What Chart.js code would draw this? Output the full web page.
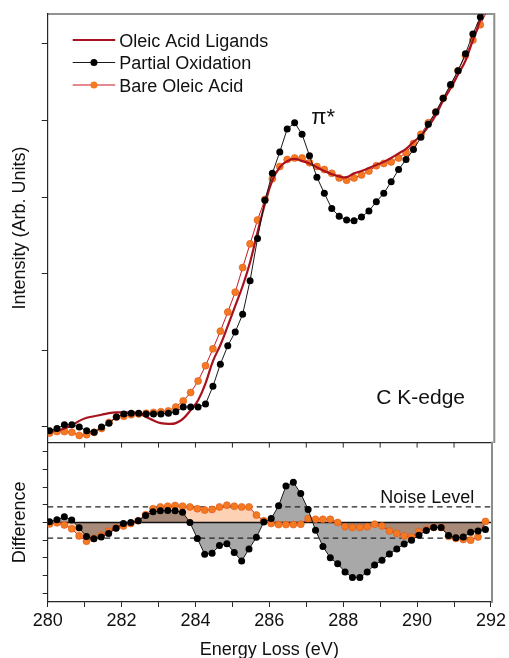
<!DOCTYPE html>
<html lang="en">
<head>
<meta charset="UTF-8">
<title>C K-edge EELS</title>
<script src="https://cdn.jsdelivr.net/npm/chart.js@4.4.0/dist/chart.umd.min.js"></script>
<style>
    html, body { margin: 0; padding: 0; background: #fff; }
    #wrap { position: relative; width: 509px; height: 658px; overflow: hidden; }
    #wrap canvas { position: absolute; left: 0; }
    #topChart { top: 0; }
    #diffChart { top: 438px; }
</style>
</head>
<body>
<div id="wrap">
    <canvas id="topChart" width="509" height="450"></canvas>
    <canvas id="diffChart" width="509" height="228"></canvas>
</div>
<script>
    // energy loss (eV) of the sampled points
    const energy = [280.05, 280.25, 280.45, 280.65, 280.85, 281.05, 281.25, 281.45, 281.65, 281.85,
        282.05, 282.25, 282.45, 282.65, 282.85, 283.05, 283.25, 283.45, 283.65, 283.85,
        284.05, 284.25, 284.45, 284.65, 284.85, 285.05, 285.25, 285.45, 285.65, 285.85,
        286.05, 286.25, 286.45, 286.65, 286.85, 287.05, 287.25, 287.45, 287.65, 287.85,
        288.05, 288.25, 288.45, 288.65, 288.85, 289.05, 289.25, 289.45, 289.65, 289.85,
        290.05, 290.25, 290.45, 290.65, 290.85, 291.05, 291.25, 291.45, 291.65, 291.85];

    // intensity, arb. units
    const ligands = [-0.05, -0.045, -0.02, 0.02, 0.08, 0.12, 0.14, 0.16, 0.18, 0.19,
        0.19, 0.19, 0.18, 0.13, 0.085, 0.05, 0.04, 0.05, 0.11, 0.22,
        0.35, 0.57, 0.86, 1.07, 1.32, 1.58, 1.84, 2.15, 2.54, 2.91,
        3.22, 3.39, 3.47, 3.50, 3.47, 3.44, 3.39, 3.34, 3.30, 3.27,
        3.26, 3.31, 3.34, 3.38, 3.42, 3.46, 3.51, 3.57, 3.63, 3.72,
        3.80, 3.92, 4.07, 4.26, 4.42, 4.60, 4.78, 5.05, 5.31, 5.56];
    const partialOx = [-0.05, -0.02, 0.03, 0.03, 0.00, -0.05, -0.07, 0.00, 0.05, 0.13,
        0.17, 0.18, 0.18, 0.17, 0.17, 0.17, 0.18, 0.20, 0.26, 0.26,
        0.26, 0.30, 0.53, 0.82, 1.06, 1.24, 1.47, 1.91, 2.46, 2.96,
        3.31, 3.59, 3.89, 3.97, 3.82, 3.54, 3.26, 3.05, 2.85, 2.75,
        2.70, 2.69, 2.74, 2.82, 2.94, 3.05, 3.20, 3.36, 3.49, 3.62,
        3.78, 3.95, 4.11, 4.29, 4.47, 4.65, 4.87, 5.13, 5.35, 5.56];
    const bareOA = [-0.08, -0.06, -0.06, -0.07, -0.11, -0.10, -0.07, -0.02, 0.06, 0.13,
        0.14, 0.16, 0.17, 0.18, 0.19, 0.20, 0.21, 0.26, 0.34, 0.45,
        0.60, 0.80, 1.02, 1.25, 1.50, 1.76, 2.08, 2.39, 2.70, 2.97,
        3.24, 3.40, 3.49, 3.51, 3.51, 3.45, 3.40, 3.36, 3.31, 3.25,
        3.22, 3.25, 3.29, 3.34, 3.41, 3.44, 3.46, 3.51, 3.58, 3.70,
        3.82, 3.97, 4.11, 4.29, 4.46, 4.65, 4.85, 5.05, 5.25, 5.45];

    // difference from the ligand spectrum
    const diffPartial = [0.02, 0.08, 0.16, 0.07, -0.15, -0.40, -0.46, -0.41, -0.31, -0.16,
        -0.03, 0.00, 0.05, 0.20, 0.30, 0.33, 0.34, 0.33, 0.29, 0.00,
        -0.45, -0.90, -0.87, -0.65, -0.60, -0.85, -1.09, -0.75, -0.42, 0.01,
        0.11, 0.47, 1.03, 1.14, 0.82, 0.37, -0.22, -0.68, -1.00, -1.17,
        -1.40, -1.56, -1.56, -1.40, -1.20, -1.07, -0.89, -0.75, -0.61, -0.50,
        -0.36, -0.23, -0.14, -0.14, -0.37, -0.43, -0.41, -0.28, -0.24, -0.20];
    const diffBare = [-0.04, -0.01, -0.07, -0.18, -0.38, -0.53, -0.45, -0.36, -0.25, -0.15,
        -0.10, -0.03, 0.05, 0.22, 0.39, 0.44, 0.46, 0.48, 0.46, 0.44,
        0.39, 0.35, 0.37, 0.44, 0.49, 0.46, 0.44, 0.44, 0.21, 0.05,
        -0.03, -0.06, -0.06, -0.06, -0.05, 0.11, 0.09, 0.09, 0.09, 0.00,
        -0.12, -0.14, -0.14, -0.12, -0.05, -0.10, -0.24, -0.31, -0.38, -0.41,
        -0.26, -0.20, -0.14, -0.14, -0.39, -0.45, -0.48, -0.50, -0.41, 0.03];

    const noiseLevel = 0.44;
    const xTicks = [280, 282, 284, 286, 288, 290, 292];

    const FONT = '"Liberation Sans", Arial, sans-serif';
    const AXIS = '#262626';

    function pts(ys) {
        return energy.map((e, i) => ({ x: e, y: ys[i] }));
    }
    function flat(v) {
        return [{ x: 280, y: v }, { x: 292, y: v }];
    }

    // frame lines not covered by the axes
    const frame = {
        id: 'frame',
        afterDraw(chart, args, opts) {
            const { ctx, chartArea: a, scales } = chart;
            ctx.save();
            ctx.strokeStyle = AXIS;
            ctx.lineWidth = 1.2;
            ctx.beginPath();
            ctx.moveTo(a.left, a.top);
            ctx.lineTo(a.right, a.top);
            ctx.stroke();
            if (opts.innerTicks) {
                ctx.lineWidth = 1;
                for (let v = 281; v < 292; v++) {
                    const px = scales.x.getPixelForValue(v);
                    ctx.beginPath();
                    ctx.moveTo(px, a.top);
                    ctx.lineTo(px, a.top + 5);
                    ctx.stroke();
                }
            }
            ctx.strokeStyle = '#8c8c8c';
            ctx.lineWidth = 2;
            ctx.beginPath();
            ctx.moveTo(a.right + 1, a.top - 1);
            ctx.lineTo(a.right + 1, a.bottom + 1);
            ctx.stroke();
            ctx.restore();
        }
    };

    // the peach fill is multiplied over the grey one, giving brown where they overlap.
    // filler paints in beforeDatasetDraw, so the mode is switched after the previous dataset
    const blend = {
        id: 'blend',
        afterDatasetDraw(chart, args) {
            const next = chart.data.datasets[args.index].blendNext;
            if (next) chart.ctx.globalCompositeOperation = next;
        }
    };

    // free text placed in data coordinates
    const notes = {
        id: 'notes',
        afterDatasetsDraw(chart, args, opts) {
            const { ctx, scales: { x, y } } = chart;
            ctx.save();
            ctx.fillStyle = '#111';
            ctx.textBaseline = 'alphabetic';
            opts.items.forEach(n => {
                ctx.font = n.size + 'px ' + FONT;
                ctx.fillText(n.text, x.getPixelForValue(n.x), y.getPixelForValue(n.y));
            });
            ctx.restore();
        }
    };

    // legend inside the plot: line sample with a marker in the middle
    const keyBox = {
        id: 'keyBox',
        afterDraw(chart) {
            const { ctx, chartArea: a } = chart;
            ctx.save();
            ctx.font = '18px ' + FONT;
            chart.data.datasets.forEach((ds, k) => {
                const ly = a.top + 26 + k * 22.5;
                const x0 = a.left + 25, x1 = a.left + 67.5;
                ctx.strokeStyle = ds.borderColor;
                ctx.lineWidth = ds.borderWidth;
                ctx.beginPath();
                ctx.moveTo(x0, ly);
                ctx.lineTo(x1, ly);
                ctx.stroke();
                if (ds.pointRadius > 0) {
                    ctx.fillStyle = ds.pointBackgroundColor;
                    ctx.beginPath();
                    ctx.arc((x0 + x1) / 2, ly, ds.pointRadius, 0, Math.PI * 2);
                    ctx.fill();
                }
                ctx.fillStyle = '#111';
                ctx.fillText(ds.label, a.left + 71.5, ly + 6.5);
            });
            ctx.restore();
        }
    };

    const titleFont = { family: FONT, size: 18 };

    new Chart(document.getElementById('topChart'), {
        type: 'line',
        data: {
            datasets: [
                {
                    label: 'Oleic Acid Ligands', data: pts(ligands),
                    borderColor: '#a8121e', borderWidth: 2.2, pointRadius: 0, tension: 0.4, order: 2
                },
                {
                    label: 'Partial Oxidation', data: pts(partialOx),
                    borderColor: '#1a1a1a', borderWidth: 1, pointRadius: 3.5,
                    pointBackgroundColor: '#000', pointBorderWidth: 0, order: 1
                },
                {
                    label: 'Bare Oleic Acid', data: pts(bareOA),
                    borderColor: '#c8161f', borderWidth: 1, pointRadius: 3.5,
                    pointBackgroundColor: '#f47a22', pointBorderColor: '#e2561a', pointBorderWidth: 0.6, order: 3
                }
            ]
        },
        options: {
            responsive: false,
            animation: false,
            devicePixelRatio: 1,
            events: [],
            layout: { padding: { top: 14, right: 15.7, left: 0, bottom: 0 } },
            plugins: {
                legend: { display: false },
                tooltip: { enabled: false },
                frame: { innerTicks: false },
                notes: {
                    items: [
                        { text: 'π*', x: 287.1, y: 3.96, size: 22 },
                        { text: 'C K-edge', x: 288.85, y: 0.30, size: 21 }
                    ]
                }
            },
            scales: {
                x: {
                    type: 'linear', min: 280, max: 292,
                    ticks: { display: false },
                    grid: { display: false },
                    border: { display: false },
                    afterFit: s => { s.height = 8; }
                },
                y: {
                    min: -0.196, max: 5.39,
                    ticks: { display: false, stepSize: 1, includeBounds: false },
                    grid: { drawOnChartArea: false, tickLength: 6, color: AXIS },
                    border: { color: AXIS, width: 1.2 },
                    title: {
                        display: true, text: 'Intensity (Arb. Units)', color: '#111',
                        font: titleFont, padding: { top: 8.9, bottom: 0 }
                    },
                    afterFit: s => { s.width = 47.7; }
                }
            }
        },
        plugins: [frame, notes, keyBox]
    });

    new Chart(document.getElementById('diffChart'), {
        type: 'line',
        data: {
            datasets: [
                {
                    label: 'Partial Oxidation fill', data: pts(diffPartial),
                    borderWidth: 0, borderColor: 'rgba(0,0,0,0)', pointRadius: 0,
                    fill: 'origin', backgroundColor: '#a8a8a8', order: 10, blendNext: 'multiply'
                },
                {
                    label: 'Bare Oleic Acid fill', data: pts(diffBare),
                    borderWidth: 0, borderColor: 'rgba(0,0,0,0)', pointRadius: 0,
                    fill: 'origin', backgroundColor: '#fdd2b4', order: 9, blendNext: 'source-over'
                },
                {
                    label: 'zero', data: flat(0),
                    borderColor: '#111', borderWidth: 1.4, pointRadius: 0, order: 5
                },
                {
                    label: 'noise upper', data: flat(noiseLevel),
                    borderColor: '#222', borderWidth: 1.2, borderDash: [5.5, 4], pointRadius: 0, order: 5
                },
                {
                    label: 'noise lower', data: flat(-noiseLevel),
                    borderColor: '#222', borderWidth: 1.2, borderDash: [5.5, 4], pointRadius: 0, order: 5
                },
                {
                    label: 'Bare Oleic Acid', data: pts(diffBare),
                    borderColor: '#c8161f', borderWidth: 1, pointRadius: 3.5,
                    pointBackgroundColor: '#f47a22', pointBorderColor: '#e2561a', pointBorderWidth: 0.6, order: 2
                },
                {
                    label: 'Partial Oxidation', data: pts(diffPartial),
                    borderColor: '#1a1a1a', borderWidth: 1, pointRadius: 3.5,
                    pointBackgroundColor: '#000', pointBorderWidth: 0, order: 1
                }
            ]
        },
        options: {
            responsive: false,
            animation: false,
            devicePixelRatio: 1,
            events: [],
            layout: { padding: { top: 4, right: 15.7, left: 0, bottom: 0 } },
            plugins: {
                legend: { display: false },
                tooltip: { enabled: false },
                frame: { innerTicks: true },
                notes: {
                    items: [{ text: 'Noise Level', x: 289.0, y: 0.55, size: 18 }]
                }
            },
            scales: {
                x: {
                    type: 'linear', min: 280, max: 292,
                    ticks: {
                        stepSize: 1, autoSkip: false, maxRotation: 0, includeBounds: false,
                        color: '#111', font: { family: FONT, size: 18 }, padding: 3,
                        callback: v => xTicks.includes(v) ? String(v) : ''
                    },
                    grid: { drawOnChartArea: false, tickLength: 5, color: AXIS },
                    border: { color: AXIS, width: 1.2 },
                    title: {
                        display: true, text: 'Energy Loss (eV)', color: '#111',
                        font: titleFont, padding: { top: 0, bottom: 5.5 }
                    },
                    afterFit: s => { s.height = 64; }
                },
                y: {
                    min: -2.25, max: 2.26,
                    ticks: { display: false, stepSize: 0.5, includeBounds: false },
                    grid: { drawOnChartArea: false, tickLength: 5, color: AXIS },
                    border: { color: AXIS, width: 1.2 },
                    title: {
                        display: true, text: 'Difference', color: '#111',
                        font: titleFont, padding: { top: 8.9, bottom: 0 }
                    },
                    afterFit: s => { s.width = 47.7; }
                }
            }
        },
        plugins: [frame, blend, notes]
    });
</script>
</body>
</html>
